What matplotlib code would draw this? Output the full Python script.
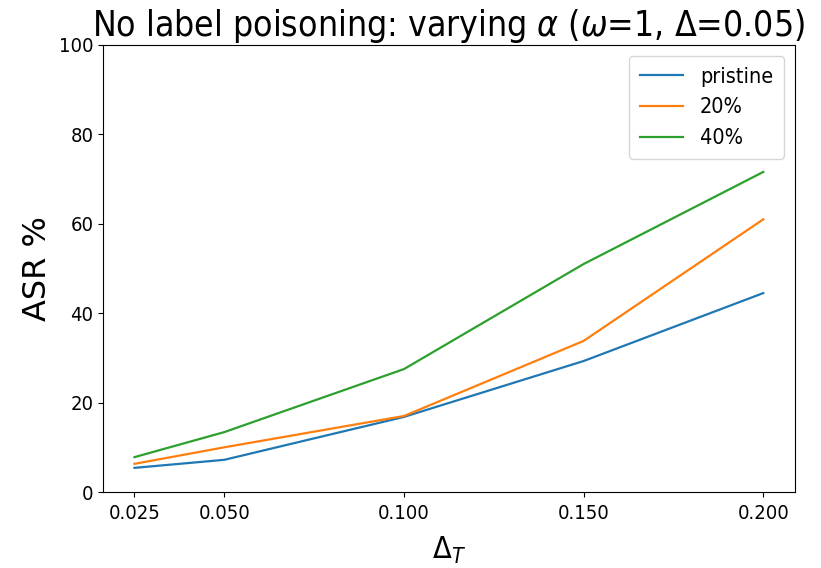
import numpy as np
import matplotlib
matplotlib.use("Agg")
import matplotlib.pyplot as plt

plt.rcParams['font.stretch'] = 'condensed'

# Data
deltas = [0.025, 0.05, 0.1, 0.15, 0.2]
pristine = [5.4, 7.2, 16.8, 29.3, 44.5]
poison20 = [6.3, 10.0, 17.0, 33.8, 61.0]
poison40 = [7.8, 13.4, 27.5, 51.0, 71.6]

fig = plt.figure(figsize=(8.21, 5.68), dpi=100)
ax = fig.add_axes([0.1255, 0.1338, 0.8425, 0.787])

ax.plot(deltas, pristine, lw=1.6, label='pristine')
ax.plot(deltas, poison20, lw=1.6, label='20%')
ax.plot(deltas, poison40, lw=1.6, label='40%')

ax.set_ylim(0, 100)
ax.set_xticks(deltas)
ax.tick_params(labelsize=14.5)
ax.tick_params(axis='x', pad=5)
ax.set_xlabel(r'$\Delta_T$', fontsize=22, labelpad=9)
ax.set_ylabel('ASR %', fontsize=23, fontstretch='normal')
ax.set_title(r'No label poisoning: varying $\alpha$ ($\omega$=1, $\Delta$=0.05)', fontsize=25.5, pad=3)
ax.legend(fontsize=15.5, borderpad=0.5)

plt.savefig('out.png', dpi=100)
